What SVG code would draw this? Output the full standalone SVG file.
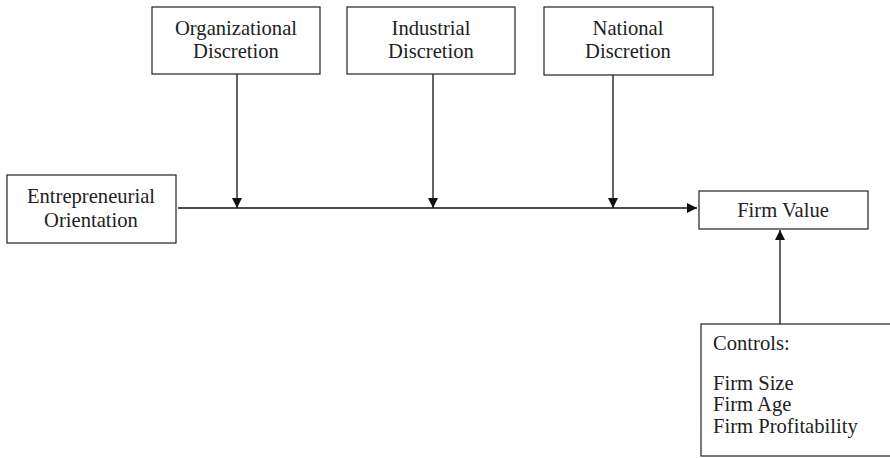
<svg xmlns="http://www.w3.org/2000/svg" width="890" height="458" viewBox="0 0 890 458">
<defs>
<marker id="ah" viewBox="0 0 10 10" refX="10" refY="5" markerWidth="10" markerHeight="10" markerUnits="userSpaceOnUse" orient="auto">
<path d="M0,0 L10,5 L0,10 z" fill="#111"/>
</marker>
<style>
.box{fill:#fff;stroke:#222;stroke-width:1.2}
.t{font-family:"Liberation Serif","Times New Roman",serif;font-size:20.6px;fill:#222}
.c{text-anchor:middle}
.ln{stroke:#111;stroke-width:1.3;fill:none;marker-end:url(#ah)}
</style>
</defs>
<rect width="890" height="458" fill="#fff"/>
<g id="connectors">
<line class="ln" x1="178" y1="208" x2="697" y2="208"/>
<line class="ln" x1="237" y1="74" x2="237" y2="208"/>
<line class="ln" x1="433" y1="74" x2="433" y2="208"/>
<line class="ln" x1="613" y1="75" x2="613" y2="208"/>
<line class="ln" x1="780" y1="324" x2="780" y2="230"/>
</g>
<g id="org">
<rect class="box" x="152" y="7" width="168" height="67"/>
<text class="t c" x="236" y="35">Organizational</text>
<text class="t c" x="236" y="58">Discretion</text>
</g>
<g id="ind">
<rect class="box" x="347" y="7" width="168" height="67"/>
<text class="t c" x="431" y="35">Industrial</text>
<text class="t c" x="431" y="58">Discretion</text>
</g>
<g id="nat">
<rect class="box" x="544" y="7" width="169" height="68"/>
<text class="t c" x="628" y="35">National</text>
<text class="t c" x="628" y="58">Discretion</text>
</g>
<g id="eo">
<rect class="box" x="7" y="175" width="169" height="68"/>
<text class="t c" x="91" y="203">Entrepreneurial</text>
<text class="t c" x="91" y="227">Orientation</text>
</g>
<g id="fv">
<rect class="box" x="699" y="191" width="169" height="38"/>
<text class="t c" x="783" y="217">Firm Value</text>
</g>
<g id="controls">
<rect class="box" x="701" y="324" width="200" height="132"/>
<text class="t" x="713" y="350">Controls:</text>
<text class="t" x="713" y="390">Firm Size</text>
<text class="t" x="713" y="411">Firm Age</text>
<text class="t" x="713" y="433">Firm Profitability</text>
</g>
</svg>
